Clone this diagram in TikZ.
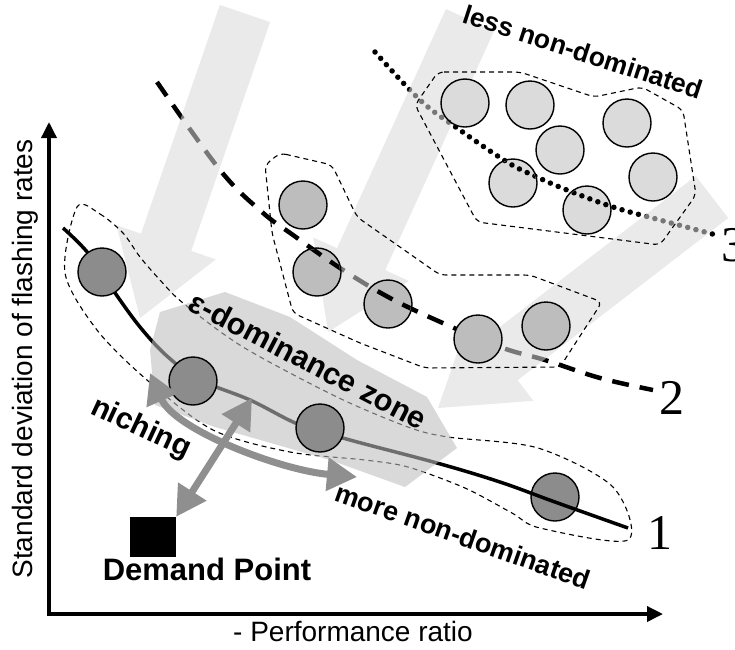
\documentclass[tikz,border=0pt]{standalone}
\usepackage{fontspec}
\setmainfont{Liberation Sans}
\newfontfamily\numfont{Liberation Serif}
\usetikzlibrary{arrows.meta}

\definecolor{rankone}{gray}{0.55}
\definecolor{ranktwo}{gray}{0.74}
\definecolor{rankthree}{gray}{0.86}
\definecolor{nichegray}{gray}{0.56}

% the two upper fronts are drawn twice (under the flow arrows, over the circles)
\newcommand{\fronttwopath}{plot[smooth,tension=0.6] coordinates {(157,82)
  (220,170) (262,212) (293,235) (340,268) (390,298) (445,324) (503,348)
  (545,360) (600,378) (653,390)}}
\newcommand{\frontthreepath}{plot[smooth,tension=0.6] coordinates {(375,52)
  (420,100) (457,128) (507,162) (537,177) (567,190) (613,207) (660,220)
  (720,236)}}

\tikzset{
  pop/.style={circle,draw,line width=1.4pt,minimum size=48pt,inner sep=0pt},
  popone/.style={pop,fill=rankone},
  poptwo/.style={pop,fill=ranktwo},
  popthree/.style={pop,fill=rankthree},
  hull/.style={line width=1.1pt,dash pattern=on 5pt off 4pt},
  flow/.style={fill=black!15,fill opacity=0.55},
  zone/.style={fill=black!26,fill opacity=0.58},
  front/.style={line width=3.5pt},
  fronttwo/.style={line width=4.5pt,dash pattern=on 17pt off 11pt},
  frontthree/.style={line width=5.5pt,line cap=round,dash pattern=on 0pt off 8.5pt},
  niche/.style={draw=nichegray,line width=7pt,
    {Triangle[length=30pt,width=32pt]}-{Triangle[length=30pt,width=32pt]}},
  axis/.style={line width=3.5pt,
    {Triangle[length=16pt,width=15pt]}-{Triangle[length=16pt,width=15pt]}},
  lbl/.style={font=\fontsize{27}{30}\selectfont\bfseries,inner sep=0pt},
  axlabel/.style={font=\fontsize{28}{30}\selectfont},
  rankno/.style={font=\numfont\fontsize{50}{50}\selectfont,inner sep=0pt}
}

\begin{document}
\begin{tikzpicture}[x=1pt,y=-1pt]
\useasboundingbox (0,0) rectangle (735,649);
\clip (0,0) rectangle (735,649);

% fronts 2 and 3 (behind the flow arrows)
\draw[fronttwo] \fronttwopath;
\draw[frontthree] \frontthreepath;

% flow arrows
\fill[flow] (140,318) -- (215.8,259.4) -- (191.2,250.9) -- (270.1,22.1)
  -- (219.9,4.9) -- (141.0,233.7) -- (116.4,225.2) -- cycle;
\fill[flow] (328,332) -- (408.9,280.9) -- (385.2,270.2) -- (494.1,31.0)
  -- (445.9,9.0) -- (337.0,248.2) -- (313.3,237.5) -- cycle;
\fill[flow] (438,408) -- (533.4,400.8) -- (517.6,380.2) -- (728.2,218.0)
  -- (695.8,176.0) -- (485.2,338.2) -- (469.4,317.6) -- cycle;

% hulls around each front
\draw[hull,rounded corners=6pt] (438,72) -- (520,72) -- (594,97) -- (642,87)
  -- (683,110) -- (696,195) -- (660,245) -- (477,222) -- (415,105) -- cycle;
\draw[hull,rounded corners=6pt] (280,153) -- (332,165) -- (357,217) -- (440,275)
  -- (530,275) -- (602,302) -- (560,367) -- (425,368) -- (360,343)
  -- (293,313) -- (272,233) -- (265,165) -- cycle;
\draw[hull] plot[smooth cycle,tension=0.5] coordinates {(77,207) (100,214)
  (123,233) (140,257) (160,280) (183,303) (243,347) (337,397) (408,427)
  (448,437) (538,448) (613,487) (628,540) (540,528) (512,513) (465,488)
  (408,467) (365,460) (290,452) (213,430) (147,380) (97,330) (65,273)};

% front 1
\node[popone] (p14) at (555,497) {};
\draw[front] plot[smooth,tension=0.6] coordinates {(63,228) (88,253) (113,290)
  (140,327) (168,357) (200,380) (250,400) (300,425) (350,440) (437,463)
  (500,482) (555,502) (628,528)};

% epsilon-dominance zone
\fill[zone] (150,350) -- (160,312) -- (225,292) -- (290,317) -- (357,360)
  -- (427,397) -- (457,448) -- (405,487) -- (330,460) -- (215,427)
  -- (155,405) -- cycle;

% populations
\node[popone] (p11) at (102,272) {};
\node[popone] (p12) at (193,381) {};
\node[popone] (p13) at (320,428) {};
\node[poptwo] (p21) at (303,205) {};
\node[poptwo] (p22) at (317,272) {};
\node[poptwo] (p23) at (388,304) {};
\node[poptwo] (p24) at (478,339) {};
\node[poptwo] (p25) at (546,326) {};
\node[popthree] (p31) at (465,103) {};
\node[popthree] (p32) at (530,105) {};
\node[popthree] (p33) at (627,123) {};
\node[popthree] (p34) at (560,150) {};
\node[popthree] (p35) at (513,183) {};
\node[popthree] (p36) at (587,210) {};
\node[popthree] (p37) at (653,177) {};

% fronts 2 and 3 again, only where they cross the circles
\begin{scope}
  \clip (p22) circle (23pt) (p23) circle (23pt);
  \draw[fronttwo] \fronttwopath;
\end{scope}
\begin{scope}
  \clip (p31) circle (23pt) (p35) circle (23pt) (p36) circle (23pt);
  \draw[frontthree] \frontthreepath;
\end{scope}

% front numbers
\node[rankno] (n1) at (660,533) {1};
\node[rankno] (n2) at (672,398) {2};
\node[rankno] (n3) at (734,245) {3};

% demand point and niching
\node[fill=black,minimum width=46pt,minimum height=40pt,inner sep=0pt] (dp) at (153,537) {};
\node[lbl,font=\fontsize{31}{33}\selectfont\bfseries,anchor=base] (dplabel) at (207,580) {Demand Point};
\coordinate (nicheup) at (252,398);
\coordinate (nicheL) at (150,373);
\coordinate (nicheR) at (357,477);
\draw[niche] (dp.north east) -- (nicheup);
\draw[niche] (nicheL) .. controls (175,430) and (280,470) .. (nicheR);

\node[lbl,font=\fontsize{30}{32}\selectfont\bfseries,rotate=-25,anchor=base west] (niching) at (89,413) {niching};
\node[lbl,font=\fontsize{30.5}{32}\selectfont\bfseries,rotate=-27.5,anchor=base west] (epszone) at (186,309) {ε-dominance zone};
\node[lbl,rotate=-19.5,anchor=base west] (more) at (333,500) {more non-dominated};
\node[lbl,font=\fontsize{26.5}{30}\selectfont\bfseries,rotate=-18,anchor=base west] (less) at (461,22) {less non-dominated};

% axes
\coordinate (origin) at (49,614);
\coordinate (ytop) at (49,122);
\coordinate (xend) at (663,614);
\draw[axis] (ytop) -- (origin) -- (xend);
\node[axlabel,rotate=90] (ylab) at (25,359) {Standard deviation of flashing rates};
\node[axlabel] (xlab) at (353,631) {- Performance ratio};
\end{tikzpicture}
\end{document}
